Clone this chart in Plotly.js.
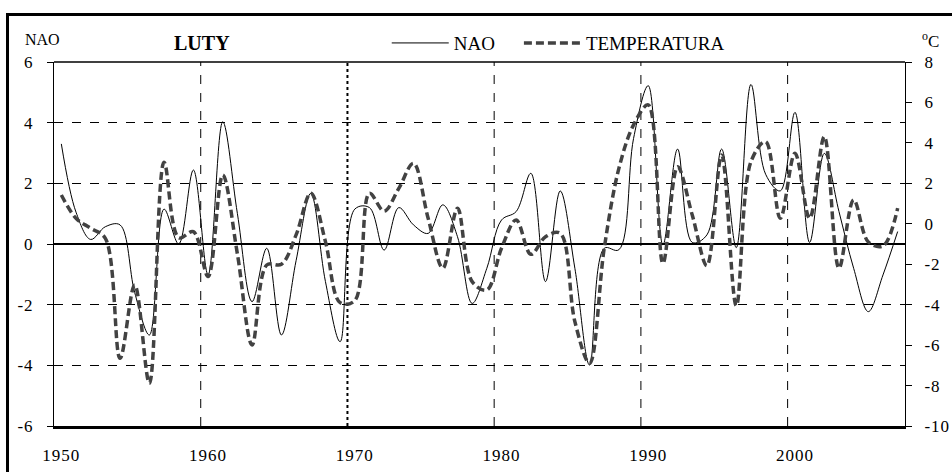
<!DOCTYPE html>
<html>
<head>
<meta charset="utf-8">
<script src="https://cdn.plot.ly/plotly-3.0.1.min.js"></script>
<style>
  html, body { margin:0; padding:0; overflow:hidden; background:#fff; }
  #frame { position:absolute; left:6px; top:13px; right:-10px; bottom:-10px; border-top:3px solid #000; border-left:3px solid #000; }
  #chart { position:absolute; left:0; top:0; width:952px; height:472px; }
  #chart .xtick text, #chart .ytick text, #chart .y2tick text { letter-spacing: 1px; }
</style>
</head>
<body>
<div id="frame"></div>
<div id="chart"></div>
<script>
const years = [1950,1951,1952,1953,1954,1955,1956,1957,1958,1959,
               1960,1961,1962,1963,1964,1965,1966,1967,1968,1969,
               1970,1971,1972,1973,1974,1975,1976,1977,1978,1979,
               1980,1981,1982,1983,1984,1985,1986,1987,1988,1989,
               1990,1991,1992,1993,1994,1995,1996,1997,1998,1999,
               2000,2001,2002,2003,2004,2005,2006,2007];

const nao = [3.30, 1.05, 0.15, 0.57, 0.63, -1.60, -3.00, 1.15, 0.00, 2.44,
             -1.02, 4.03, 1.00, -1.90, -0.14, -3.00, -0.55, 1.67, -1.24, -3.22,
             1.15, 1.20, -0.20, 1.20, 0.63, 0.35, 1.29, 0.24, -1.96, -0.80,
             0.79, 1.07, 2.33, -1.24, 1.75, -0.80, -3.99, -0.14, -0.19, 3.48,
             5.22, -0.03, 3.13, 0.05, 0.30, 3.13, -0.12, 5.26, 2.30, 1.75,
             4.34, 0.05, 2.99, 1.07, -0.80, -2.23, -1.02, 0.41];

const temperatura = [1.42, 0.27, -0.22, -0.72, -6.65, -3.03, -7.89, 3.04, -0.69, -0.39,
                     -2.61, 2.41, -1.50, -5.99, -2.04, -2.00, -0.55, 1.51, -0.88, -3.90,
                     -3.80, 1.51, 0.63, 1.75, 2.99, 0.27, -2.20, 0.77, -2.86, -3.27,
                     -1.21, 0.19, -1.51, -0.64, -0.47, -4.84, -6.90, -1.21, 2.74, 4.89,
                     5.88, -1.96, 2.82, 0.43, -2.07, 3.40, -4.05, 3.07, 4.06, 0.27,
                     3.49, 0.27, 4.31, -2.20, 1.18, -0.90, -1.10, 0.77];

const decadeTicks = [1950, 1960, 1970, 1980, 1990, 2000];
const decadeLabels = ['1950', '1960', '1970', '1980', '1990', '2000'];
const naoTicks = [-6, -4, -2, 0, 2, 4, 6];
const naoLabels = ['-6', '-4', '-2', '0', '2', '4', '6'];
const tempTicks = [-10, -8, -6, -4, -2, 0, 2, 4, 6, 8];
const tempLabels = ['-10', '-8', '-6', '-4', '-2', '0', '2', '4', '6', '8'];

const FONT = 'Liberation Serif';

const traces = [
  {
    x: years, y: nao, name: 'NAO&nbsp;&nbsp;&nbsp;&nbsp;', type: 'scatter', mode: 'lines',
    line: {color: '#000', width: 1, shape: 'spline', smoothing: 1},
    yaxis: 'y'
  },
  {
    x: years, y: temperatura, name: 'TEMPERATURA', type: 'scatter', mode: 'lines',
    line: {color: '#424242', width: 3.5, dash: '8px,4px', shape: 'spline', smoothing: 1},
    yaxis: 'y2'
  }
];

// vertical decade grid lines sit on category boundaries (between year slots)
const gridShapes = [1960, 1970, 1980, 1990, 2000].map(d => ({
  type: 'line', xref: 'x', yref: 'paper', x0: d - 0.5, x1: d - 0.5, y0: 0, y1: 1,
  line: d === 1970 ? {color: '#000', width: 2, dash: 'dot'} : {color: '#000', width: 1, dash: 'dash'},
  layer: 'below'
}));
gridShapes.push({
  type: 'line', xref: 'paper', yref: 'paper', x0: 0, x1: 1, y0: 1, y1: 1,
  line: {color: '#000', width: 1.3}
});

const layout = {
  width: 952, height: 472,
  margin: {l: 54, r: 47, t: 62, b: 46, pad: 0},
  paper_bgcolor: 'rgba(0,0,0,0)',
  plot_bgcolor: '#fff',
  font: {family: FONT, size: 17, color: '#000'},
  title: {text: '<b>LUTY</b>', x: 0.212, xanchor: 'center', y: 1 - 43/472, yanchor: 'middle',
          font: {family: FONT, size: 20, color: '#000'}},
  showlegend: true,
  legend: {orientation: 'h', x: 0.391, xanchor: 'left', y: 1.052, yanchor: 'middle',
           itemwidth: 57,
           bgcolor: 'rgba(0,0,0,0)', font: {family: FONT, size: 19, color: '#000'}},
  xaxis: {
    range: [1949.5, 2007.5], tickvals: decadeTicks, ticktext: decadeLabels,
    ticks: '', showgrid: false, zeroline: false,
    showline: true, linecolor: '#000', linewidth: 3,
    ticklabelstandoff: 12, tickfont: {family: FONT, size: 17, color: '#000'}
  },
  yaxis: {
    range: [-6, 6], tickvals: naoTicks, ticktext: naoLabels, ticks: 'outside', ticklen: 6, tickcolor: '#000', tickwidth: 1,
    showline: true, linecolor: '#000', linewidth: 1,
    showgrid: true, gridcolor: '#000', gridwidth: 1, griddash: 'dash',
    zeroline: true, zerolinecolor: '#000', zerolinewidth: 1.3,
    ticklabelstandoff: 10, tickfont: {family: FONT, size: 17, color: '#000'}
  },
  yaxis2: {
    overlaying: 'y', side: 'right', range: [-10, 8], tickvals: tempTicks, ticktext: tempLabels,
    ticks: 'outside', ticklen: 6, tickcolor: '#000', tickwidth: 1,
    showline: true, linecolor: '#000', linewidth: 1,
    showgrid: false, zeroline: false,
    ticklabelstandoff: 9, tickfont: {family: FONT, size: 17, color: '#000'}
  },
  shapes: gridShapes,
  annotations: [
    {text: 'NAO', xref: 'paper', yref: 'paper', x: (23 - 54)/851, y: (426 - 39)/364,
     xanchor: 'left', yanchor: 'middle', showarrow: false, font: {family: FONT, size: 16, color: '#000'}},
    {text: '<sup>o</sup>C', xref: 'paper', yref: 'paper', x: (920 - 54)/851, y: (426 - 40)/364,
     xanchor: 'left', yanchor: 'middle', showarrow: false, font: {family: FONT, size: 17, color: '#000'}}
  ]
};

Plotly.newPlot('chart', traces, layout, {displayModeBar: false, staticPlot: true});
</script>
</body>
</html>
